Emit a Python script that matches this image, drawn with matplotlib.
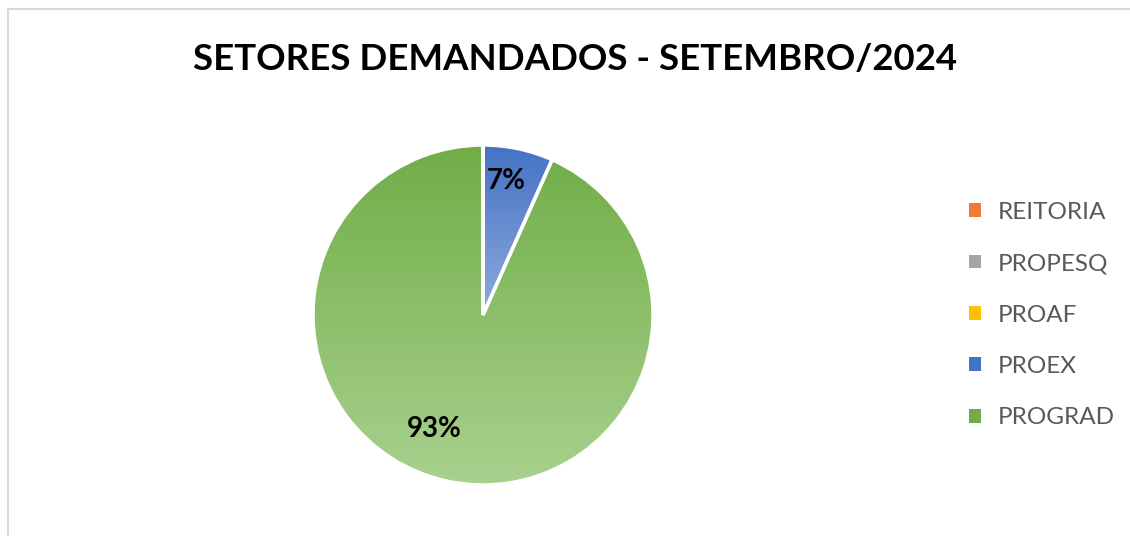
import numpy as np
import matplotlib
matplotlib.use("Agg")
import matplotlib.pyplot as plt
from matplotlib.colors import LinearSegmentedColormap
from matplotlib.patches import Rectangle

title = "SETORES DEMANDADOS - SETEMBRO/2024"
categories = ["REITORIA", "PROPESQ", "PROAF", "PROEX", "PROGRAD"]
values = [0, 0, 0, 1, 14]
colors = ["#ED7D31", "#A5A5A5", "#FFC000", "#4472C4", "#70AD47"]
light_colors = ["#F4B183", "#C9C9C9", "#FFD966", "#8FAADC", "#A9D18E"]

plt.rcParams['font.family'] = ['Lato', 'DejaVu Sans']

W, H = 1130, 536
fig = plt.figure(figsize=(W / 100, H / 100), dpi=100)

# chart border
fig.patches.append(Rectangle((8 / W, -0.1), 1.2, 1 - 9 / H + 0.1, transform=fig.transFigure,
                             fill=False, edgecolor="#D9D9D9", linewidth=1.5))

cx, cy, r = 483, 315, 170
ax = fig.add_axes([(cx - r) / W, 1 - (cy + r) / H, 2 * r / W, 2 * r / H])


def fmt(p):
    return f"{p:.0f}%" if p > 0.5 else ""


wedges, texts, autotexts = ax.pie(values, colors=colors, startangle=90, counterclock=False,
                                  autopct=fmt, pctdistance=0.8,
                                  wedgeprops=dict(edgecolor="white", linewidth=2.5),
                                  textprops=dict(fontsize=20, fontweight="bold", color="black"))
ax.set_aspect("equal")

# gradient fills (lighter toward bottom)
for w, c, lc, v in zip(wedges, colors, light_colors, values):
    if v <= 0:
        continue
    cmap = LinearSegmentedColormap.from_list("g", [lc, c])
    if w.theta2 - w.theta1 < 90:
        y0, y1 = 0, 1
    else:
        y0, y1 = -1, 1
    grad = np.linspace(0, 1, 256).reshape(-1, 1)
    im = ax.imshow(grad, extent=[-1, 1, y0, y1], origin="lower", cmap=cmap,
                   aspect="auto", zorder=0.5)
    im.set_clip_path(w)
    w.set_facecolor("none")
    w.set_zorder(1)

# label placement: large slice label nudged like the original's best-fit placement
for w, t, v in zip(wedges, autotexts, values):
    t.set_zorder(3)
    if v <= 0:
        continue
    mid = 0.5 * (w.theta1 + w.theta2)
    if w.theta2 - w.theta1 > 180:
        ang, d = np.radians(mid - 11), 0.73
    else:
        ang, d = np.radians(mid + 2), 0.8
    t.set_position((d * np.cos(ang), d * np.sin(ang)))

ax.set_xlim(-1, 1)
ax.set_ylim(-1, 1)

fig.text(575 / W, 1 - 60 / H, title, ha="center", va="center", fontsize=26.4,
         fontweight="bold", color="black")

leg = fig.legend(wedges, categories, loc="center left", bbox_to_anchor=(947 / W, 1 - 315 / H),
                 frameon=False, fontsize=17.5, labelcolor="#595959",
                 handlelength=0.5, handleheight=0.5, handletextpad=0.7, labelspacing=1.25)
for h, c in zip(leg.legend_handles, colors):
    h.set_facecolor(c)
    h.set_edgecolor("none")

fig.savefig("out.png", dpi=100)
